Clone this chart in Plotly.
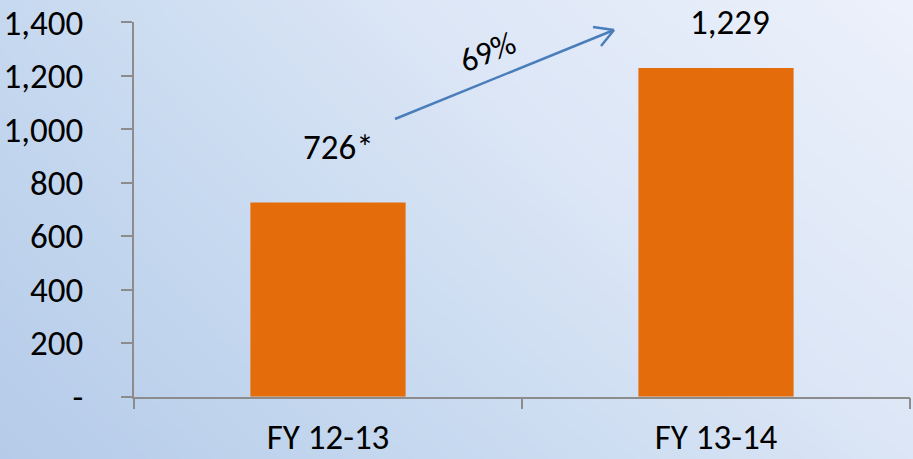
import plotly.graph_objects as go

# Chart data
categories = ["FY 12-13", "FY 13-14"]
values = [726, 1229]
value_labels = ["726*", "1,229"]
growth_label = "69%"
y_tickvals = [0, 200, 400, 600, 800, 1000, 1200, 1400]
y_ticktext = ["-", "200", "400", "600", "800", "1,000", "1,200", "1,400"]

W, H = 913, 459
FONT = "Calibri, Carlito, Lato, sans-serif"
FONT_SIZE = 35
AXIS_COLOR = "#8c8c8c"
BAR_COLOR = "#E46C0A"
ARROW_COLOR = "#4A7EBB"


def px(x):
    return x / W


def py(y):
    return 1 - y / H


fig = go.Figure()

# Soft diagonal background wash on a hidden full-figure axis pair (drawn first, underneath)
fig.add_trace(go.Heatmap(
    z=[[0.0, 0.6], [0.3, 1.0]],
    x=[-0.05, 1.05], y=[-0.05, 1.05],
    zsmooth="best",
    colorscale=[[0.0, "#b3c9e8"], [0.3, "#c5d8ef"], [0.6, "#dce6f6"], [1.0, "#eff3fc"]],
    showscale=False, hoverinfo="skip",
    xaxis="x", yaxis="y",
))

fig.add_trace(go.Bar(
    x=categories, y=values,
    marker=dict(color=BAR_COLOR, line=dict(width=0)),
    width=0.4,
    hoverinfo="x+y",
    xaxis="x2", yaxis="y2",
))

# Value labels above each bar
label_shift = [(10, 56), (14, 46)]
for cat, val, txt, (dx, dy) in zip(categories, values, value_labels, label_shift):
    fig.add_annotation(
        xref="x2", yref="y2",
        x=cat, y=val, text=txt, showarrow=False,
        xanchor="center", yanchor="middle", xshift=dx, yshift=dy,
        font=dict(family=FONT, size=FONT_SIZE, color="#000000"),
    )

# Growth arrow with open chevron head
tip = (614, 30)
arrow_lines = [((395, 119), tip), ((593, 27), tip), ((601, 46), tip)]
for (x0, y0), (x1, y1) in arrow_lines:
    fig.add_shape(
        type="line", xref="paper", yref="paper",
        x0=px(x0), y0=py(y0), x1=px(x1), y1=py(y1),
        line=dict(color=ARROW_COLOR, width=2.5),
    )

fig.add_annotation(
    xref="paper", yref="paper", x=px(487), y=py(52),
    text=growth_label, showarrow=False, textangle=-22,
    xanchor="center", yanchor="middle",
    font=dict(family=FONT, size=FONT_SIZE - 2, color="#000000"),
)

fig.update_layout(
    width=W, height=H,
    margin=dict(l=0, r=0, t=0, b=0, pad=0),
    paper_bgcolor="#dce6f6",
    plot_bgcolor="rgba(0,0,0,0)",
    showlegend=False,
    font=dict(family=FONT, size=FONT_SIZE, color="#000000"),
    xaxis=dict(domain=[0, 1], range=[0, 1], visible=False, fixedrange=True, automargin=False),
    yaxis=dict(domain=[0, 1], range=[0, 1], visible=False, fixedrange=True, automargin=False),
    xaxis2=dict(
        domain=[px(134), px(910)],
        type="category",
        range=[-0.5, 1.5],
        anchor="y2",
        automargin=False,
        showline=True, linecolor=AXIS_COLOR, linewidth=1.5,
        ticks="outside", tickson="boundaries", ticklen=11,
        tickcolor=AXIS_COLOR, tickwidth=1.5,
        ticklabelstandoff=9,
        showgrid=False, zeroline=False,
        tickfont=dict(family=FONT, size=FONT_SIZE, color="#000000"),
    ),
    yaxis2=dict(
        domain=[py(396.7), py(22.3)],
        range=[0, 1400],
        anchor="x2",
        automargin=False,
        tickvals=y_tickvals, ticktext=y_ticktext,
        showline=True, linecolor=AXIS_COLOR, linewidth=1.5,
        ticks="outside", ticklen=11, tickcolor=AXIS_COLOR, tickwidth=1.5,
        ticklabelstandoff=31,
        showgrid=False, zeroline=False,
        tickfont=dict(family=FONT, size=FONT_SIZE, color="#000000"),
    ),
)

fig.write_html("out.html")
